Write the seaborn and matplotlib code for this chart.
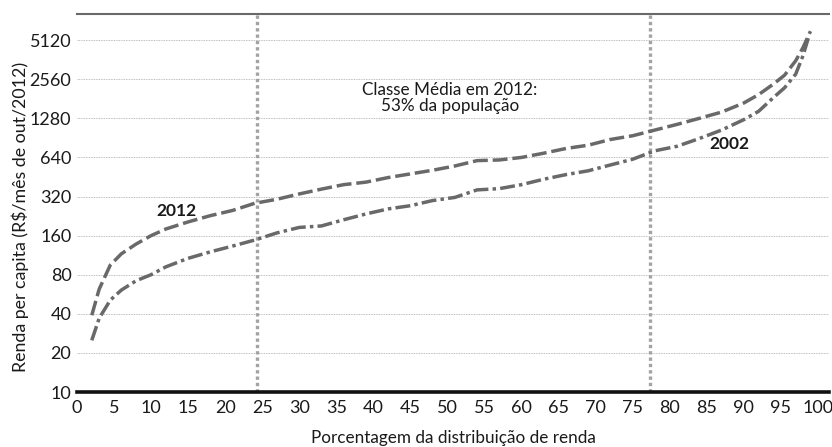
import numpy as np
import pandas as pd
import matplotlib
matplotlib.use("Agg")
import matplotlib.pyplot as plt
import seaborn as sns

# Income percentiles (x) and per-capita income (R$/month, Oct/2012 prices)
pct_2012 = [2, 3, 4.5, 6, 8, 10, 12, 15, 18, 21, 24, 27, 30, 33, 36, 39, 42, 45,
            48, 51, 54, 57, 60, 63, 66, 69, 72, 75, 78, 81, 84, 87, 90, 92, 94,
            95.5, 97, 98, 99]
renda_2012 = [39, 62, 95, 116, 138, 160, 180, 204, 228, 250, 284, 305, 335, 365,
              395, 413, 448, 478, 510, 550, 605, 612, 640, 690, 750, 795, 880,
              940, 1040, 1150, 1280, 1430, 1680, 1950, 2350, 2750, 3550, 4500,
              6000]

pct_2002 = [2, 3, 4.5, 6, 8, 10, 12, 15, 18, 21, 24, 27, 30, 33, 36, 39, 42, 45,
            48, 51, 54, 57, 60, 63, 66, 69, 72, 75, 78, 81, 84, 87, 90, 92, 94,
            95.5, 97, 98, 98.7]
renda_2002 = [25, 37, 51, 61, 72, 80, 92, 107, 120, 133, 148, 168, 185, 190, 212,
              235, 257, 272, 298, 315, 360, 368, 395, 435, 472, 505, 560, 620,
              720, 780, 895, 1040, 1250, 1450, 1850, 2200, 2800, 3900, 5300]

y_ticks = [10, 20, 40, 80, 160, 320, 640, 1280, 2560, 5120]
x_ticks = list(range(0, 101, 5))
classe_media_limites = [24.3, 77.4]

df = pd.concat([
    pd.DataFrame({"pct": pct_2012, "renda": renda_2012, "ano": "2012"}),
    pd.DataFrame({"pct": pct_2002, "renda": renda_2002, "ano": "2002"}),
])

sns.set_theme(style="white")
plt.rcParams["font.family"] = ["Lato", "DejaVu Sans"]

fig = plt.figure(figsize=(8.32, 4.47), dpi=100)
ax = fig.add_axes([0.0925, 0.123, 0.9039, 0.8457])

grey = "#696969"
for yv in y_ticks[1:]:
    ax.axhline(yv, color="#a8a8a8", lw=0.6, ls=(0, (1, 1)), zorder=1)
for xv in classe_media_limites:
    ax.axvline(xv, color="#a3a3a3", lw=2.4, ls=(0, (1, 0.9)), zorder=2)

sns.lineplot(data=df, x="pct", y="renda", hue="ano", style="ano",
             palette={"2012": grey, "2002": grey},
             dashes={"2012": (4.3, 1.4), "2002": (4.3, 1.2, 1.0, 1.2)},
             lw=2.5, estimator=None, sort=False, legend=False, ax=ax, zorder=3)

ax.set_yscale("log", base=2)
ax.set_ylim(10, 8140)
ax.set_xlim(0, 101.5)
ax.set_yticks(y_ticks)
ax.set_yticklabels([str(v) for v in y_ticks])
ax.minorticks_off()
ax.set_xticks(x_ticks)
ax.set_xticklabels([str(v) for v in x_ticks])
ax.tick_params(axis="both", length=0, labelsize=13, colors="#1a1a1a")
ax.tick_params(axis="y", pad=4)
ax.tick_params(axis="x", pad=6)

for side in ["left", "right"]:
    ax.spines[side].set_visible(False)
ax.spines["bottom"].set_color("#111111")
ax.spines["bottom"].set_linewidth(2.6)
ax.spines["top"].set_color(grey)
ax.spines["top"].set_linewidth(1.5)

ax.set_xlabel("Porcentagem da distribuição de renda", fontsize=12.3,
              color="#1a1a1a", labelpad=10)
ax.set_ylabel("Renda per capita (R$/mês de out/2012)", fontsize=12.8,
              color="#1a1a1a")
ax.yaxis.set_label_coords(-0.064, 0.463)

ax.text(13.4, 247, "2012", fontsize=12.5, fontweight="bold", ha="center",
        va="center", color="#1a1a1a")
ax.text(88.1, 811, "2002", fontsize=12.5, fontweight="bold", ha="center",
        va="center", color="#1a1a1a")
ax.text(50.3, 1835, "Classe Média em 2012:\n53% da população", fontsize=12.3,
        ha="center", va="center", color="#1a1a1a", linespacing=1.0)

fig.savefig("out.png", dpi=100)
